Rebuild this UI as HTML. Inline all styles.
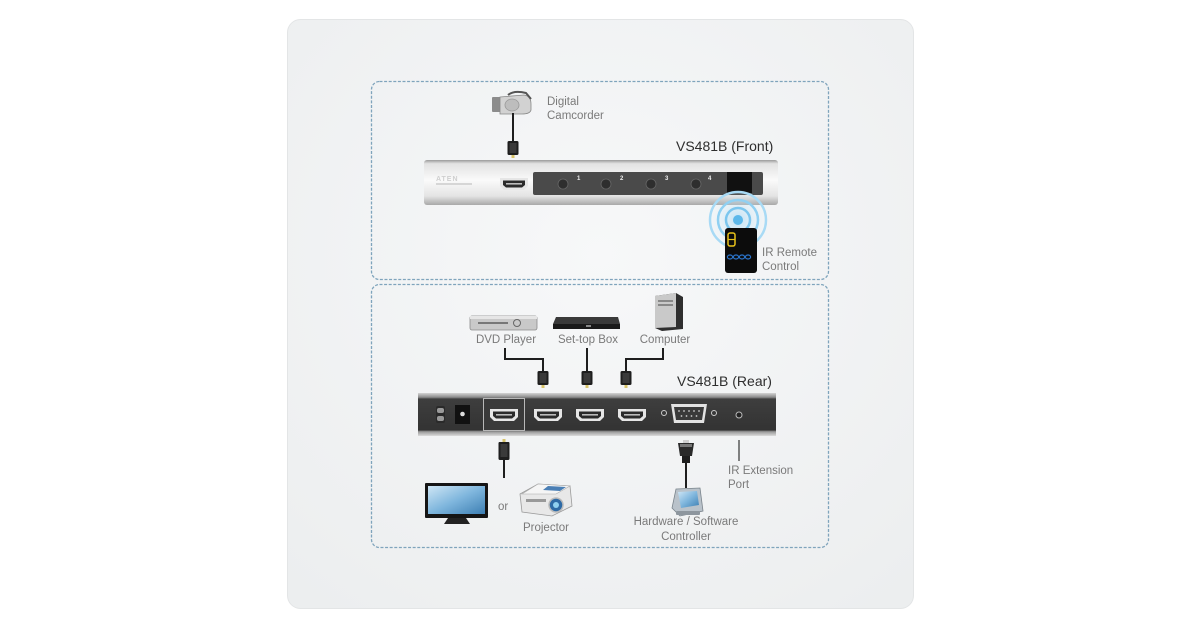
<!DOCTYPE html>
<html><head><meta charset="utf-8"><style>
html,body{margin:0;padding:0;background:#fff;}
svg{display:block;}
text{font-family:"Liberation Sans",sans-serif;}
.lbl{font-size:11.5px;fill:#7a7a7a;}
.ttl{font-size:14px;fill:#2e2e2e;}
</style></head><body>
<svg width="1200" height="630" viewBox="0 0 1200 630" xmlns="http://www.w3.org/2000/svg">
<defs>
<radialGradient id="card" cx="0.5" cy="0.4" r="0.75">
<stop offset="0" stop-color="#f7f8f9"/><stop offset="1" stop-color="#eceeef"/>
</radialGradient>
<linearGradient id="silver" x1="0" y1="0" x2="0" y2="1">
<stop offset="0" stop-color="#9a9a9a"/><stop offset="0.08" stop-color="#e2e2e2"/>
<stop offset="0.45" stop-color="#fafafa"/><stop offset="0.8" stop-color="#e4e4e4"/><stop offset="1" stop-color="#a8a8a8"/>
</linearGradient>
<linearGradient id="rear" x1="0" y1="0" x2="0" y2="1">
<stop offset="0" stop-color="#d4d4d4"/><stop offset="0.1" stop-color="#8a8a8a"/><stop offset="0.14" stop-color="#3e3e3e"/>
<stop offset="0.86" stop-color="#333"/><stop offset="0.9" stop-color="#999"/><stop offset="1" stop-color="#dcdcdc"/>
</linearGradient>
<linearGradient id="screen" x1="0" y1="0" x2="1" y2="1">
<stop offset="0" stop-color="#cfe6f5"/><stop offset="0.5" stop-color="#7fb6dd"/><stop offset="1" stop-color="#3d7fb3"/>
</linearGradient>
<radialGradient id="ir" cx="0.5" cy="0.5" r="0.5">
<stop offset="0" stop-color="#9fd6f5" stop-opacity="0.6"/><stop offset="1" stop-color="#d6eefb" stop-opacity="0"/>
</radialGradient>
<g id="hdmi">
<path d="M-14,-6 L14,-6 L14,2 L10,6 L-10,6 L-14,2 Z" fill="#e6e6e6"/>
<path d="M-11,-3.5 L11,-3.5 L11,1 L8,3.5 L-8,3.5 L-11,1 Z" fill="#2a2a2a"/>
<rect x="-8" y="-1" width="16" height="1.6" fill="#bbb"/>
</g>
<!-- plug pointing up: tip at y=0 -->
<g id="plug">
<rect x="-1.5" y="-2" width="3" height="3" fill="#d8c46a"/>
<rect x="-5.5" y="1" width="11" height="14" rx="1.5" fill="#1e1e1e"/>
<rect x="-3.5" y="3" width="7" height="10" fill="#3a3a3a"/>
</g>
<!-- plug pointing down: tip at y=0 -->
<g id="plugd">
<rect x="-1.5" y="-1" width="3" height="3" fill="#d8c46a"/>
<rect x="-5.5" y="-15" width="11" height="14" rx="1.5" fill="#1e1e1e"/>
<rect x="-3.5" y="-13" width="7" height="10" fill="#3a3a3a"/>
</g>
</defs>

<!-- card -->
<rect x="287.5" y="19.5" width="626" height="589" rx="13" fill="url(#card)" stroke="#e3e5e6" stroke-width="1"/>

<!-- dashed boxes -->
<rect x="371.5" y="81.5" width="457" height="198" rx="8" fill="none" stroke="#7fa4bc" stroke-width="1.3" stroke-dasharray="3 1.6"/>
<rect x="371.5" y="284.5" width="457" height="263" rx="8" fill="none" stroke="#7fa4bc" stroke-width="1.3" stroke-dasharray="3 1.6"/>

<!-- ===== FRONT ===== -->
<!-- camcorder -->
<g>
<rect x="492" y="97" width="10" height="15" rx="1" fill="#8c8c8c"/>
<path d="M500,97 L524,95 Q531,96 531,104 L531,110 Q530,114 522,114 L500,114 Z" fill="#d2d2d2" stroke="#888" stroke-width="0.8"/>
<ellipse cx="512" cy="105" rx="7" ry="6" fill="#bdbdbd" stroke="#999" stroke-width="0.8"/>
<path d="M508,95 Q514,90 526,93 L531,99" fill="none" stroke="#555" stroke-width="2"/>
</g>
<line x1="513" y1="113" x2="513" y2="142" stroke="#1e1e1e" stroke-width="2"/>
<use href="#plugd" x="513" y="156"/>
<text class="lbl" x="547" y="105">Digital</text>
<text class="lbl" x="547" y="119">Camcorder</text>
<text class="ttl" x="676" y="151">VS481B (Front)</text>

<!-- front device -->
<rect x="424" y="160" width="354" height="45" rx="3" fill="url(#silver)"/>
<text x="436" y="181" style="font-size:7px;font-weight:bold;fill:#cfcfcf;letter-spacing:1px">ATEN</text>
<rect x="436" y="183" width="36" height="2" fill="#d6d6d6"/>
<use href="#hdmi" x="514" y="184"/>
<rect x="533" y="172" width="230" height="23" rx="2" fill="#4a4a4a"/>
<g fill="#2e2e2e" stroke="#666" stroke-width="0.8">
<circle cx="563" cy="184" r="5"/><circle cx="606" cy="184" r="5"/><circle cx="651" cy="184" r="5"/><circle cx="696" cy="184" r="5"/>
</g>
<g style="font-size:6px;font-weight:bold;fill:#eee">
<text x="577" y="180">1</text><text x="620" y="180">2</text><text x="665" y="180">3</text><text x="708" y="180">4</text>
</g>
<rect x="727" y="172" width="25" height="21" fill="#111"/>

<!-- IR remote -->
<circle cx="738" cy="220" r="29" fill="url(#ir)"/>
<circle cx="738" cy="220" r="28" fill="none" stroke="#a8daf5" stroke-width="2.5"/>
<circle cx="738" cy="220" r="20" fill="none" stroke="#90d0f2" stroke-width="2.5"/>
<circle cx="738" cy="220" r="12" fill="none" stroke="#7cc6ee" stroke-width="2.5"/>
<circle cx="738" cy="220" r="5" fill="#5cb8ea"/>
<rect x="725" y="228" width="32" height="45" rx="3" fill="#0c0c0c"/>
<rect x="728" y="233" width="7" height="13" rx="2" fill="none" stroke="#e8c21a" stroke-width="1.5"/>
<line x1="728" y1="239.5" x2="735" y2="239.5" stroke="#e8c21a" stroke-width="1.2"/>
<g fill="none" stroke="#2a72c8" stroke-width="1.2">
<ellipse cx="730" cy="257" rx="2.6" ry="2"/><ellipse cx="736" cy="257" rx="2.6" ry="2"/><ellipse cx="742" cy="257" rx="2.6" ry="2"/><ellipse cx="748" cy="257" rx="2.6" ry="2"/>
</g>
<text class="lbl" x="762" y="256">IR Remote</text>
<text class="lbl" x="762" y="270">Control</text>

<!-- ===== REAR ===== -->
<!-- DVD player -->
<g>
<rect x="470" y="316" width="67" height="14" rx="2" fill="#c9c9c9" stroke="#8a8a8a" stroke-width="0.8"/>
<rect x="470" y="316" width="67" height="3" fill="#e6e6e6"/>
<rect x="478" y="322" width="30" height="2" fill="#777"/>
<circle cx="517" cy="323" r="3.5" fill="none" stroke="#666" stroke-width="1"/>
</g>
<!-- set-top box -->
<g>
<path d="M556,317 L618,317 L620,324 L553,324 Z" fill="#3a3a3a"/>
<rect x="553" y="324" width="67" height="5" fill="#1a1a1a"/>
<rect x="586" y="325" width="5" height="2" fill="#888"/>
</g>
<!-- computer -->
<g>
<path d="M655,296 L676,293 L683,297 L683,329 L662,331 L655,328 Z" fill="#2e2e2e"/>
<path d="M655,296 L676,293 L676,327 L655,328 Z" fill="#c9c9c9"/>
<rect x="658" y="300" width="15" height="2" fill="#888"/>
<rect x="658" y="304" width="15" height="2" fill="#888"/>
</g>
<text class="lbl" x="506" y="343" text-anchor="middle">DVD Player</text>
<text class="lbl" x="588" y="343" text-anchor="middle">Set-top Box</text>
<text class="lbl" x="665" y="343" text-anchor="middle">Computer</text>

<!-- input cables -->
<g fill="none" stroke="#1e1e1e" stroke-width="2">
<path d="M505,348 L505,359 L543,359 L543,373"/>
<path d="M587,348 L587,373"/>
<path d="M663,348 L663,359 L626,359 L626,373"/>
</g>
<use href="#plugd" x="543" y="386"/>
<use href="#plugd" x="587" y="386"/>
<use href="#plugd" x="626" y="386"/>

<text class="ttl" x="677" y="386">VS481B (Rear)</text>

<!-- rear device -->
<rect x="418" y="393" width="358" height="43" fill="url(#rear)"/>
<!-- power switch -->
<rect x="436" y="406" width="9" height="17" rx="2" fill="#2a2a2a"/>
<rect x="437" y="408" width="7" height="5" rx="2" fill="#9a9a9a"/>
<rect x="437" y="416" width="7" height="5" rx="2" fill="#9a9a9a"/>
<!-- DC jack -->
<rect x="455" y="405" width="15" height="19" fill="#111"/>
<circle cx="462.5" cy="414" r="2.3" fill="#ddd"/>
<!-- HDMI out boxed -->
<rect x="483.5" y="398.5" width="41" height="32" fill="#3a3a3a" stroke="#b8b8b8" stroke-width="1"/>
<use href="#hdmi" x="504" y="415"/>
<use href="#hdmi" x="548" y="415"/>
<use href="#hdmi" x="590" y="415"/>
<use href="#hdmi" x="632" y="415"/>
<!-- DB9 -->
<circle cx="664" cy="413" r="2.5" fill="none" stroke="#ccc" stroke-width="1"/>
<circle cx="714" cy="413" r="2.5" fill="none" stroke="#ccc" stroke-width="1"/>
<path d="M671,404 L707,404 L704,423 L674,423 Z" fill="#e2e2e2"/>
<path d="M674,407 L704,407 L702,420 L676,420 Z" fill="#3a3a3a"/>
<g fill="#ccc"><circle cx="679" cy="411" r="0.9"/><circle cx="684" cy="411" r="0.9"/><circle cx="689" cy="411" r="0.9"/><circle cx="694" cy="411" r="0.9"/><circle cx="699" cy="411" r="0.9"/>
<circle cx="681.5" cy="416" r="0.9"/><circle cx="686.5" cy="416" r="0.9"/><circle cx="691.5" cy="416" r="0.9"/><circle cx="696.5" cy="416" r="0.9"/></g>
<!-- audio jack -->
<circle cx="739" cy="415" r="3" fill="#222" stroke="#bbb" stroke-width="1"/>

<!-- output cable -->
<use href="#plug" x="504" y="441"/>
<rect x="498.5" y="442" width="11" height="18" rx="1.5" fill="#1e1e1e"/>
<rect x="500.5" y="444" width="7" height="13" fill="#3a3a3a"/>
<line x1="504" y1="459" x2="504" y2="478" stroke="#1e1e1e" stroke-width="2"/>

<!-- TV -->
<rect x="425" y="483" width="63" height="35" rx="1" fill="#151515"/>
<rect x="428" y="486" width="57" height="28" fill="url(#screen)"/>
<path d="M448,518 L466,518 L470,524 L444,524 Z" fill="#222"/>
<text class="lbl" x="498" y="510">or</text>
<!-- projector -->
<g>
<path d="M520,494 L538,484 L570,486 L572,506 L552,516 L522,512 Z" fill="#e8e8e8" stroke="#9a9a9a" stroke-width="0.8"/>
<path d="M538,484 L570,486 L556,494 L522,494 Z" fill="#f5f5f5" stroke="#aaa" stroke-width="0.6"/>
<path d="M548,486 L566,487 L560,491 L543,490 Z" fill="#4a7fb5"/>
<circle cx="556" cy="505" r="7" fill="#2d6aa6" stroke="#bbb" stroke-width="1.5"/>
<circle cx="556" cy="505" r="3" fill="#8fd0f0"/>
<rect x="526" y="499" width="20" height="3" fill="#999"/>
</g>
<text class="lbl" x="546" y="531" text-anchor="middle">Projector</text>

<!-- DB9 cable -->
<g>
<rect x="683" y="440" width="6" height="3" fill="#cfcfcf"/>
<path d="M678,443 L694,443 L692,456 L680,456 Z" fill="#2a2a2a"/>
<rect x="680" y="444" width="12" height="3" fill="#777"/>
<rect x="682" y="456" width="8" height="7" fill="#1e1e1e"/>
</g>
<line x1="686" y1="463" x2="686" y2="488" stroke="#1e1e1e" stroke-width="2"/>
<!-- controller -->
<g>
<path d="M676,489 L700,488 L703,511 L680,516 L672,508 Z" fill="#b9c2ca" stroke="#7a848c" stroke-width="0.8"/>
<path d="M678,492 L697,491 L699,505 L681,508 Z" fill="url(#screen)"/>
<rect x="676" y="511" width="24" height="4" rx="1" fill="#8d969e"/>
</g>
<text class="lbl" x="686" y="525" text-anchor="middle">Hardware / Software</text>
<text class="lbl" x="686" y="540" text-anchor="middle">Controller</text>

<!-- IR ext port -->
<line x1="739" y1="440" x2="739" y2="461" stroke="#333" stroke-width="1.2"/>
<text class="lbl" x="728" y="474">IR Extension</text>
<text class="lbl" x="728" y="488">Port</text>
</svg>
</body></html>
